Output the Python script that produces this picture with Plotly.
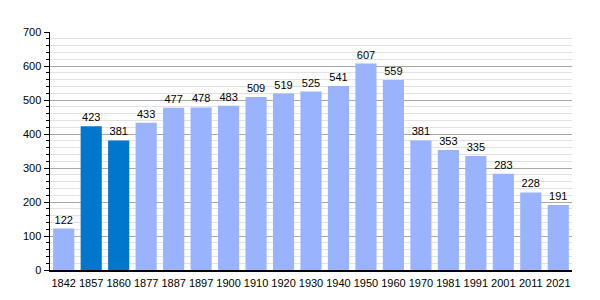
import plotly.graph_objects as go

years = ["1842", "1857", "1860", "1877", "1887", "1897", "1900", "1910", "1920", "1930",
         "1940", "1950", "1960", "1970", "1981", "1991", "2001", "2011", "2021"]
population = [122, 423, 381, 433, 477, 478, 483, 509, 519, 525,
              541, 607, 559, 381, 353, 335, 283, 228, 191]
highlight = ["1857", "1860"]

light = "#99B3FF"
dark = "#0077CC"
colors = [dark if y in highlight else light for y in years]

fig = go.Figure()
fig.add_trace(go.Bar(
    x=years, y=population, marker=dict(color=colors, line=dict(width=0)),
    text=[str(v) for v in population], textposition="outside",
    textfont=dict(family="Liberation Sans, Arial, sans-serif", size=11, color="#000000"),
    cliponaxis=False, hoverinfo="skip",
))
fig.update_layout(
    width=600, height=300,
    margin=dict(l=50, r=28, t=32, b=30, autoexpand=False),
    plot_bgcolor="white", paper_bgcolor="white",
    bargap=0.23, showlegend=False,
    font=dict(family="Liberation Sans, Arial, sans-serif", size=11, color="#000000"),
)
fig.update_xaxes(
    type="category", showgrid=False, showline=True, linecolor="#000000", linewidth=1.5,
    ticks="outside", ticklen=2, tickcolor="rgba(0,0,0,0)",
    tickfont=dict(size=11), range=[-0.5, len(years) - 0.5], automargin=False,
)
fig.update_yaxes(
    range=[0, 700], dtick=100, showgrid=True, gridcolor="#A8A8A8", gridwidth=1,
    showline=True, linecolor="#000000", linewidth=1.5,
    ticks="outside", ticklen=5, tickcolor="#000000",
    minor=dict(dtick=20, showgrid=True, gridcolor="#E2E2E2", gridwidth=1,
               ticks="outside", ticklen=3, tickcolor="#000000"),
    zeroline=False, tickfont=dict(size=11), automargin=False,
)
fig.write_html("out.html", config={"displayModeBar": False, "staticPlot": True})
with open("out.html", encoding="utf-8") as f:
    html = f.read()
html = html.replace("<body>", '<body style="margin:0;padding:0;overflow:hidden">', 1)
with open("out.html", "w", encoding="utf-8") as f:
    f.write(html)
